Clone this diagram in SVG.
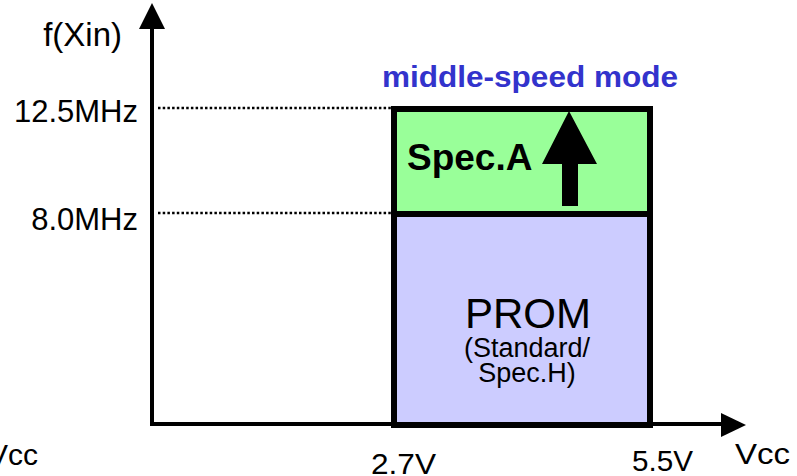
<svg xmlns="http://www.w3.org/2000/svg" width="797" height="476" viewBox="0 0 797 476">
<defs>
<style>
.t{font-family:"Liberation Sans",Arial,sans-serif;fill:#000}
.b{font-weight:bold}
.ax{stroke:#000;stroke-width:4;fill:none}
.dot{stroke:#000;stroke-width:2.5;stroke-dasharray:2.5 2.2;fill:none}
.box{stroke:#000;stroke-width:6}
</style>
</defs>
<rect width="797" height="476" fill="#fff"/>
<g id="connectors">
<line class="dot" x1="158" y1="108" x2="391" y2="108"/>
<line class="dot" x1="158" y1="213" x2="391" y2="213"/>
</g>
<g id="prom">
<rect class="box" x="394" y="214" width="256" height="211" fill="#ccccff"/>
<text class="t" x="528" y="328" font-size="42" text-anchor="middle">PROM</text>
<text class="t" x="527" y="357" font-size="27" text-anchor="middle">(Standard/</text>
<text class="t" x="527" y="382" font-size="27" text-anchor="middle">Spec.H)</text>
</g>
<g id="specA">
<rect class="box" x="394" y="109" width="256" height="105" fill="#99ff99"/>
<text class="t b" x="407" y="170" font-size="37">Spec.A</text>
<polygon points="569,111 597,164 578,164 578,206 562,206 562,164 542,164" fill="#000"/>
</g>
<g id="axes">
<line class="ax" x1="152" y1="424" x2="152" y2="27"/>
<polygon points="152,3 165,29 139,29" fill="#000"/>
<line class="ax" x1="150" y1="424" x2="723" y2="424"/>
<polygon points="746,425 721,413 721,437" fill="#000"/>
</g>
<g id="labels">
<text class="t" x="122" y="46" font-size="33" text-anchor="end">f(Xin)</text>
<text class="t" x="138" y="122" font-size="31" text-anchor="end">12.5MHz</text>
<text class="t" x="138" y="230" font-size="31" text-anchor="end">8.0MHz</text>
<text class="t b" x="382" y="87" font-size="30" style="fill:#3333cc" textLength="296" lengthAdjust="spacingAndGlyphs">middle-speed mode</text>
<text class="t" x="38" y="465" font-size="30" text-anchor="end">Vcc</text>
<text class="t" x="371" y="474" font-size="30" textLength="65" lengthAdjust="spacingAndGlyphs">2.7V</text>
<text class="t" x="632" y="471" font-size="30" textLength="61" lengthAdjust="spacingAndGlyphs">5.5V</text>
<text class="t" x="735" y="464" font-size="30" textLength="55" lengthAdjust="spacingAndGlyphs">Vcc</text>
</g>
</svg>
